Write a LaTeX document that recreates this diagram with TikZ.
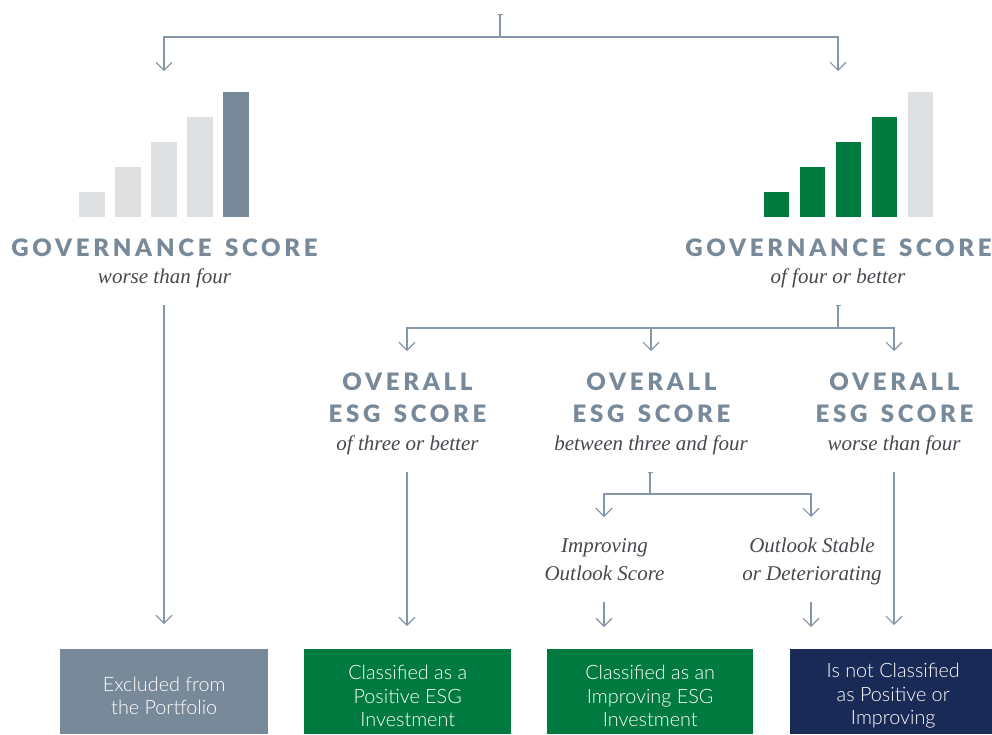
\documentclass[tikz,border=0pt]{standalone}
\usepackage{fontspec}
\usetikzlibrary{arrows.meta}
\setmainfont{Lato Light}
\newfontfamily\headfont[LetterSpace=15.5,WordSpace=1.45]{Lato Black}
\newfontfamily\itfont{Liberation Serif}
\newcommand\lift{\rule{0pt}{23pt}}
\newcommand\nudge{\hspace*{4pt}}
\definecolor{linec}{HTML}{8496A8}
\definecolor{headc}{HTML}{788A99}
\definecolor{barlight}{HTML}{DEE0E2}
\definecolor{bardark}{HTML}{78899A}
\definecolor{esggreen}{HTML}{007A3F}
\definecolor{esgnavy}{HTML}{1A2A56}
\definecolor{itc}{HTML}{45484D}
\tikzset{
  x=1pt,y=-1pt,
  conn/.style={draw=linec,line width=1.1pt},
  arr/.style={conn,-{Straight Barb[length=8pt,width=16pt,line width=1.1pt]}},
  tick/.style={conn,{Bar[width=5pt,line width=1pt]}-},
  headtxt/.style={inner sep=0,text=headc,font=\headfont\fontsize{24}{24}\selectfont,anchor=center},
  ittxt/.style={inner sep=0,text=itc,font=\itfont\itshape\fontsize{21}{28}\selectfont,align=center,anchor=center},
  boxnode/.style={minimum height=85pt,inner sep=0,text=white,align=center,anchor=north west,font=\fontsize{19.8}{23.5}\selectfont},
  barl/.style={fill=barlight,draw=none},
  bard/.style={fill=bardark,draw=none},
  barg/.style={fill=esggreen,draw=none}
}
\begin{document}
\begin{tikzpicture}
\useasboundingbox (0,0) rectangle (992,734);
% bars left
\fill[barl] (79,192) rectangle (105,217);
\fill[barl] (115,167) rectangle (141,217);
\fill[barl] (151,142) rectangle (177,217);
\fill[barl] (187,117) rectangle (213,217);
\fill[bard] (223,92) rectangle (249,217);
% bars right
\fill[barg] (764,192) rectangle (789,217);
\fill[barg] (800,167) rectangle (825,217);
\fill[barg] (836,142) rectangle (861,217);
\fill[barg] (872,117) rectangle (897,217);
\fill[barl] (908,92) rectangle (933,217);
% headings
\node[headtxt] (g1) at (164.5,248) {GOVERNANCE SCORE};
\node[ittxt] (g1s) at (164.5,278) {worse than four};
\node[headtxt] (g2) at (838.5,248) {GOVERNANCE SCORE};
\node[ittxt] (g2s) at (838,278) {of four or better};
\node[headtxt] (o1a) at (407.5,381.5) {OVERALL};
\node[headtxt] (o1b) at (407.5,414) {ESG SCORE};
\node[ittxt] (o1s) at (407.5,445) {of three or better};
\node[headtxt] (o2a) at (651.5,381.5) {OVERALL};
\node[headtxt] (o2b) at (651.5,414) {ESG SCORE};
\node[ittxt] (o2s) at (651,445) {between three and four};
\node[headtxt] (o3a) at (894.5,381.5) {OVERALL};
\node[headtxt] (o3b) at (894.5,414) {ESG SCORE};
\node[ittxt] (o3s) at (894,445) {worse than four};
\node[ittxt] (imp) at (604.5,560) {Improving\\Outlook Score};
\node[ittxt] (sta) at (812,561) {Outlook Stable\\or Deteriorating};
% boxes
\node[boxnode,fill=bardark,minimum width=208pt] (b1) at (60,649) {\lift Excluded from\\the Portfolio};
\node[boxnode,fill=esggreen,minimum width=207pt] (b2) at (304,649) {\lift Classified as a\\Positive ESG\\Investment};
\node[boxnode,fill=esggreen,minimum width=206pt] (b3) at (547,649) {\lift Classified as an\\Improving ESG\\Investment};
\node[boxnode,fill=esgnavy,minimum width=202pt] (b4) at (790,649) {\lift\nudge Is not Classified\\\nudge as Positive or\\\nudge Improving};
% connector coordinates
\coordinate (t0) at (500,14);
\coordinate (j0) at (500,37);
\coordinate (jl) at (164,37);
\coordinate (jr) at (838,37);
\coordinate (al) at (164,71);
\coordinate (ar) at (838,71);
\coordinate (t1) at (838,305);
\coordinate (j1) at (838,328);
\coordinate (j1l) at (407,328);
\coordinate (j1m) at (651,328);
\coordinate (j1r) at (894,328);
\coordinate (a1l) at (407,351);
\coordinate (a1m) at (651,351);
\coordinate (a1r) at (894,351);
\coordinate (t2) at (650,472);
\coordinate (j2) at (650,494);
\coordinate (j2l) at (604,494);
\coordinate (j2r) at (811,494);
\coordinate (a2l) at (604,517);
\coordinate (a2r) at (811,517);
\coordinate (s1) at (164,305);
\coordinate (e1) at (164,624);
\coordinate (s2) at (407,472);
\coordinate (e2) at (407,626);
\coordinate (s3) at (604,602);
\coordinate (e3) at (604,627);
\coordinate (s4) at (811,602);
\coordinate (e4) at (811,627);
\coordinate (s5) at (894,472);
\coordinate (e5) at (894,625);
% connectors
\draw[tick] (t0) -- (j0);
\draw[conn,line cap=rect] (jl) -- (jr);
\draw[arr] (jl) -- (al);
\draw[arr] (jr) -- (ar);
\draw[tick] (t1) -- (j1);
\draw[conn,line cap=rect] (j1l) -- (j1r);
\draw[arr] (j1l) -- (a1l);
\draw[arr] (j1m) -- (a1m);
\draw[arr] (j1r) -- (a1r);
\draw[tick] (t2) -- (j2);
\draw[conn,line cap=rect] (j2l) -- (j2r);
\draw[arr] (j2l) -- (a2l);
\draw[arr] (j2r) -- (a2r);
\draw[arr] (s1) -- (e1);
\draw[arr] (s2) -- (e2);
\draw[arr] (s3) -- (e3);
\draw[arr] (s4) -- (e4);
\draw[arr] (s5) -- (e5);
\end{tikzpicture}
\end{document}
